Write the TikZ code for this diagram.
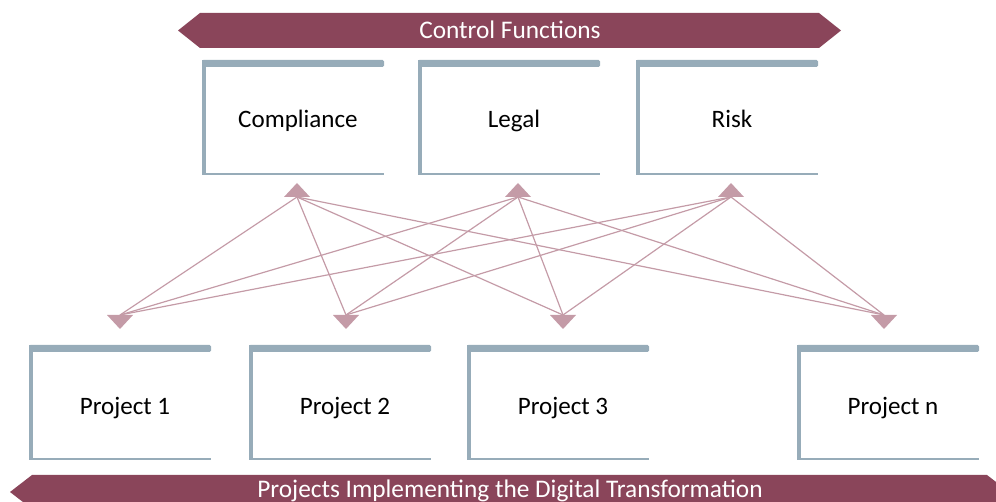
\documentclass[tikz,border=0pt]{standalone}
\usepackage{fontspec}
\setmainfont{Carlito}
\usepackage{tikz}
\usetikzlibrary{positioning,calc}
\definecolor{Wine}{HTML}{8A455A}
\definecolor{Slate}{HTML}{97ACB9}
\definecolor{Mauve}{HTML}{C49BA7}

\begin{document}
\begin{tikzpicture}[x=0.75pt,y=0.75pt,
  unitlabel/.style={font=\fontsize{18.8pt}{20pt}\selectfont,text=black,inner sep=0pt,anchor=base},
  bannerlabel/.style={font=\fontsize{19pt}{20pt}\selectfont,text=white,inner sep=0pt,anchor=base},
  link/.style={Mauve,line width=0.9pt}]
\clip (0,0) rectangle (996,502);
% banners
\fill[Wine] (178,471.5) -- (200,489) -- (819,489) -- (841,471.5) -- (819,454) -- (200,454) -- cycle;
\node[bannerlabel] (ctrl) at (510,463) {Control Functions};
\fill[Wine] (10,10) -- (32,27) -- (987,27) -- (1009,10) -- (987,-7) -- (32,-7) -- cycle;
\node[bannerlabel] (proj) at (510,4) {Projects Implementing the Digital Transformation};
% control function boxes
\foreach \n/\x/\t in {comp/202/Compliance,legal/418/Legal,risk/636/Risk} {
  \fill[Slate] (\x,327) rectangle ++(4,115);
  \fill[Slate] (\x,327) rectangle ++(182,2);
  \fill[Slate,rounded corners=1pt] (\x,435) rectangle ++(182,7);
  \node[unitlabel] (\n) at (\x+96,374) {\t};
}
% project boxes
\foreach \n/\x/\t in {p1/29/Project 1,p2/249/Project 2,p3/467/Project 3,pn/797/Project n} {
  \fill[Slate] (\x,42) rectangle ++(4,115);
  \fill[Slate] (\x,42) rectangle ++(182,2);
  \fill[Slate,rounded corners=1pt] (\x,150) rectangle ++(182,7);
  \node[unitlabel] (\n) at (\x+96,87) {\t};
}
% triangle markers
\foreach \n/\x in {compT/297,legalT/518,riskT/731} {
  \coordinate (\n) at (\x,305);
  \fill[Mauve] (\n) ++(-13,0) -- ++(26,0) -- ++(-13,14) -- cycle;
}
\foreach \n/\x in {p1T/120,p2T/346,p3T/563,pnT/884} {
  \coordinate (\n) at (\x,187);
  \fill[Mauve] (\n) ++(-13,0) -- ++(26,0) -- ++(-13,-14) -- cycle;
}
% every function reaches every project
\foreach \a in {compT,legalT,riskT} {
  \foreach \b in {p1T,p2T,p3T,pnT} {
    \draw[link] (\a) -- (\b);
  }
}
\end{tikzpicture}
\end{document}
